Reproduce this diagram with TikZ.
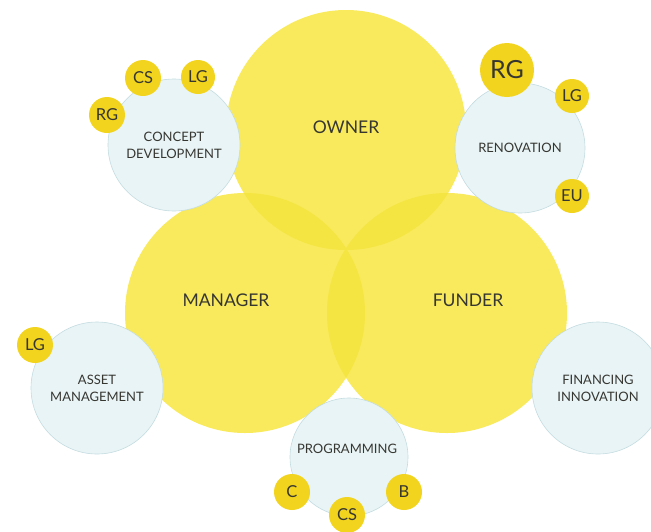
\documentclass[tikz,border=0pt]{standalone}
\usepackage{fontspec}
\setmainfont{Lato}
\usetikzlibrary{positioning}
\definecolor{venn}{RGB}{248,234,92}
\definecolor{vennlens}{RGB}{245,229,66}
\definecolor{tagfill}{RGB}{242,212,30}
\definecolor{sky}{RGB}{233,244,246}
\definecolor{skyline}{RGB}{196,220,224}
\definecolor{ink}{RGB}{55,55,50}

\begin{document}
\begin{tikzpicture}[x=1pt,y=-1pt,
  role/.style={circle,fill=venn,minimum size=240pt,inner sep=0pt},
  rolename/.style={text=ink,font=\fontsize{17.5}{20}\selectfont},
  area/.style={circle,fill=sky,draw=skyline,line width=0.6pt,minimum size=132pt,inner sep=0pt,align=center,text=ink,font=\fontsize{13}{17}\selectfont},
  tag/.style={circle,fill=tagfill,minimum size=36pt,inner sep=0pt,text=ink,font=\fontsize{16.5}{16.5}\selectfont}]
\useasboundingbox (0,0) rectangle (651,531);

% the three roles
\node[role] (owner) at (346,130) {};
\node[role] (manager) at (245,313) {};
\node[role] (funder) at (447,313) {};
\begin{scope}
  \clip (owner.center) circle (120pt);
  \fill[vennlens] (manager.center) circle (120pt) (funder.center) circle (120pt);
\end{scope}
\begin{scope}
  \clip (manager.center) circle (120pt);
  \fill[vennlens] (funder.center) circle (120pt);
\end{scope}
\node[rolename] (ownername) at (346,127) {OWNER};
\node[rolename] (managername) at (226,300) {MANAGER};
\node[rolename] (fundername) at (468,300) {FUNDER};

% activity circles
\node[area] (concept) at (174,145) {CONCEPT\\DEVELOPMENT};
\node[area,minimum size=130pt] (renovation) at (520,148) {RENOVATION};
\node[area] (asset) at (97,388) {ASSET\\MANAGEMENT};
\node[area] (financing) at (598,388) {FINANCING\\INNOVATION};
\node[area,minimum size=118pt] (programming) at (349,457) {};
\node[text=ink,font=\fontsize{13}{17}\selectfont] (programmingname) at (347,449) {PROGRAMMING};

% partner tags
\node[tag] (cdrg) at (107,115) {RG};
\node[tag] (cdcs) at (143,78) {CS};
\node[tag,minimum size=34pt] (cdlg) at (198,77) {LG};
\node[tag,minimum size=54pt,font=\fontsize{25}{25}\selectfont] (rnrg) at (507,70) {RG};
\node[tag,minimum size=34pt] (rnlg) at (572,96) {LG};
\node[tag,minimum size=34pt] (rneu) at (572,196) {EU};
\node[tag] (amlg) at (35,345) {LG};
\node[tag] (prc) at (292,492) {C};
\node[tag] (prcs) at (347,515) {CS};
\node[tag] (prb) at (404,492) {B};
\end{tikzpicture}
\end{document}
